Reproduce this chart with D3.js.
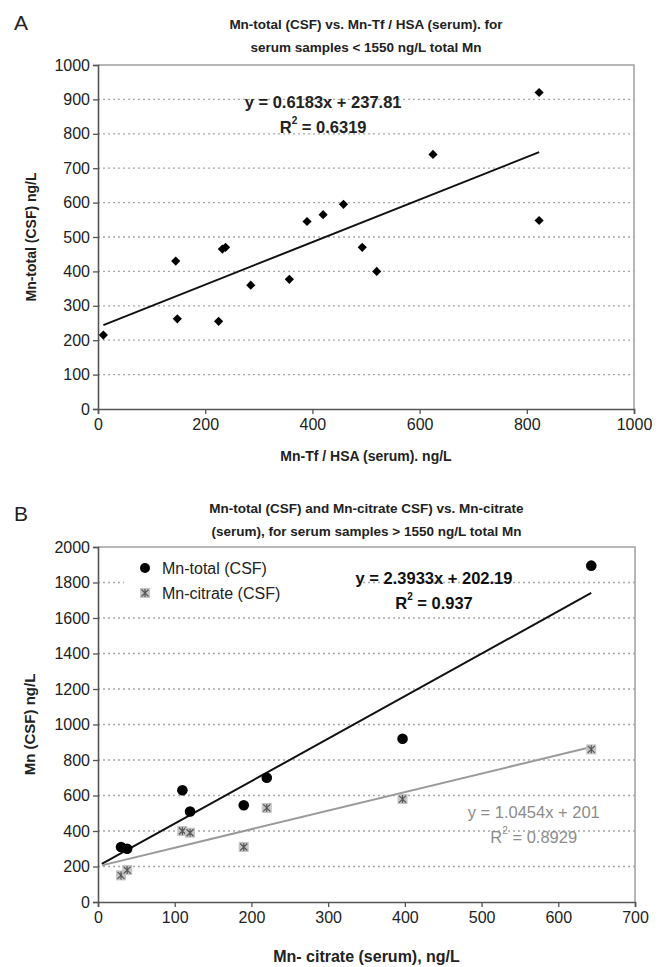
<!DOCTYPE html>
<html>
<head>
<meta charset="utf-8">
<script src="https://cdn.jsdelivr.net/npm/d3@7"></script>
<style>
  body { margin: 0; background: #fff; }
  svg { font-family: "Liberation Sans", Arial, sans-serif; }
</style>
</head>
<body>
<svg id="chart" width="662" height="967"></svg>
<script>
// panel A data: Mn-Tf / HSA (serum) vs Mn-total (CSF)
var serumTfA = [10, 145, 148, 225, 232, 238, 285, 357, 390, 420, 458, 493, 520, 625, 823, 823];
var csfTotalA = [215, 430, 262, 255, 465, 470, 360, 377, 545, 565, 595, 470, 400, 740, 920, 548];
var fitA = { slope: 0.6183, intercept: 237.81, x0: 10, x1: 823 };
var ticksA_x = [0, 200, 400, 600, 800, 1000];
var ticksA_y = [0, 100, 200, 300, 400, 500, 600, 700, 800, 900, 1000];

// panel B data: Mn-citrate (serum) vs Mn-total / Mn-citrate (CSF)
var serumCitB = [30, 38, 110, 120, 190, 220, 397, 643];
var csfTotalB = [310, 300, 630, 510, 545, 700, 920, 1895];
var csfCitB = [150, 180, 400, 390, 310, 530, 580, 860];
var fitTotalB = { slope: 2.3933, intercept: 202.19, x0: 5, x1: 643 };
var fitCitB = { slope: 1.0454, intercept: 201, x0: 5, x1: 643 };
var ticksB_x = [0, 100, 200, 300, 400, 500, 600, 700];
var ticksB_y = [0, 200, 400, 600, 800, 1000, 1200, 1400, 1600, 1800, 2000];
var legendB = ["Mn-total (CSF)", "Mn-citrate (CSF)"];

var svg = d3.select("#chart");
var grey = "#8c8c8c";

function drawFrame(p) {
    var g = svg.append("g");
    var x = d3.scaleLinear().domain(p.xDomain).range([p.left, p.right]);
    var y = d3.scaleLinear().domain(p.yDomain).range([p.bottom, p.top]);

    // dotted grid
    g.selectAll(".grid").data(p.yTicks.slice(1, -1)).enter()
        .append("line")
        .attr("x1", p.left).attr("x2", p.right)
        .attr("y1", function (d) { return y(d); })
        .attr("y2", function (d) { return y(d); })
        .attr("stroke", "#a8a8a8")
        .attr("stroke-width", 1.3)
        .attr("stroke-dasharray", "2,3");

    // top / right border
    g.append("path")
        .attr("d", "M" + p.left + "," + p.top + "H" + p.right + "V" + p.bottom)
        .attr("fill", "none").attr("stroke", "#a0a0a0").attr("stroke-width", 1.5);

    var ax = g.append("g").attr("transform", "translate(0," + p.bottom + ")")
        .call(d3.axisBottom(x).tickValues(p.xTicks).tickSize(5).tickPadding(5).tickFormat(d3.format("d")));
    var ay = g.append("g").attr("transform", "translate(" + p.left + ",0)")
        .call(d3.axisLeft(y).tickValues(p.yTicks).tickSize(5).tickPadding(3).tickFormat(d3.format("d")));
    [ax, ay].forEach(function (a) {
        a.select(".domain").attr("stroke", "#555").attr("stroke-width", 1.6);
        a.selectAll(".tick line").attr("stroke", "#555").attr("stroke-width", 1.3);
        a.selectAll(".tick text").attr("fill", "#222").style("font-size", "16px");
    });

    // titles
    p.title.forEach(function (t, i) {
        svg.append("text").attr("x", (p.left + p.right) / 2).attr("y", p.titleY + i * 23)
            .attr("text-anchor", "middle").attr("dominant-baseline", "central")
            .style("font-size", "13.5px").style("font-weight", "bold").attr("fill", "#222")
            .text(t);
    });
    svg.append("text").attr("x", 14).attr("y", p.letterY)
        .attr("dominant-baseline", "central")
        .style("font-size", "21px").attr("fill", "#222").text(p.letter);
    svg.append("text").attr("x", (p.left + p.right) / 2).attr("y", p.xTitleY)
        .attr("text-anchor", "middle").attr("dominant-baseline", "central")
        .style("font-size", p.xTitleSize).style("font-weight", "bold").attr("fill", "#222")
        .text(p.xTitle);
    svg.append("text")
        .attr("transform", "translate(" + p.yTitleX + "," + (p.top + p.bottom) / 2 + ") rotate(-90)")
        .attr("text-anchor", "middle").attr("dominant-baseline", "central")
        .style("font-size", p.yTitleSize).style("font-weight", "bold").attr("fill", "#222")
        .text(p.yTitle);

    return { g: g, x: x, y: y };
}

function drawFit(f, fit, color, width) {
    f.g.append("line")
        .attr("x1", f.x(fit.x0)).attr("y1", f.y(fit.slope * fit.x0 + fit.intercept))
        .attr("x2", f.x(fit.x1)).attr("y2", f.y(fit.slope * fit.x1 + fit.intercept))
        .attr("stroke", color).attr("stroke-width", width);
}

function drawEquation(f, fit, r2, pos, color, bold) {
    var eq = "y = " + fit.slope + "x + " + fit.intercept;
    var t1 = f.g.append("text").attr("x", f.x(pos[0])).attr("y", f.y(pos[1]))
        .attr("text-anchor", "middle").attr("dominant-baseline", "central")
        .style("font-size", "16.5px").attr("fill", color).text(eq);
    var t2 = f.g.append("text").attr("x", f.x(pos[0])).attr("y", f.y(pos[1]) + 25)
        .attr("text-anchor", "middle").attr("dominant-baseline", "central")
        .style("font-size", "16.5px").attr("fill", color);
    t2.append("tspan").text("R");
    t2.append("tspan").attr("dy", -7).style("font-size", "10px").text("2");
    t2.append("tspan").attr("dy", 7).text(" = " + r2);
    if (bold) { t1.style("font-weight", "bold"); t2.style("font-weight", "bold"); }
}

function starMarker(sel, color) {
    sel.append("rect").attr("x", -5).attr("y", -5).attr("width", 10).attr("height", 10)
        .attr("fill", "#c4c4c4");
    sel.append("path").attr("d", "M-3.5,-3.5L3.5,3.5M-3.5,3.5L3.5,-3.5M0,-4V4")
        .attr("stroke", color).attr("stroke-width", 1.2);
}

// ---------- panel A ----------
var fA = drawFrame({
    left: 98, right: 634, top: 65, bottom: 409,
    xDomain: [0, 1000], yDomain: [0, 1000], xTicks: ticksA_x, yTicks: ticksA_y,
    title: ["Mn-total (CSF) vs.  Mn-Tf / HSA (serum). for", "serum samples < 1550 ng/L total Mn"],
    titleY: 24, letter: "A", letterY: 22,
    xTitle: "Mn-Tf / HSA (serum). ng/L", xTitleY: 456, xTitleSize: "14px",
    yTitle: "Mn-total (CSF)  ng/L", yTitleX: 31, yTitleSize: "14px"
});
drawFit(fA, fitA, "#111", 2);
fA.g.selectAll(".dia").data(serumTfA).enter()
    .append("path")
    .attr("transform", function (d, i) { return "translate(" + fA.x(d) + "," + fA.y(csfTotalA[i]) + ")"; })
    .attr("d", "M0,-4.6L4.6,0L0,4.6L-4.6,0Z")
    .attr("fill", "#000");
drawEquation(fA, fitA, "0.6319", [420, 893], "#222", true);

// ---------- panel B ----------
var fB = drawFrame({
    left: 98, right: 635, top: 547, bottom: 902,
    xDomain: [0, 700], yDomain: [0, 2000], xTicks: ticksB_x, yTicks: ticksB_y,
    title: ["Mn-total (CSF) and Mn-citrate CSF) vs. Mn-citrate", "(serum), for serum samples > 1550 ng/L total Mn"],
    titleY: 508, letter: "B", letterY: 513,
    xTitle: "Mn- citrate (serum), ng/L", xTitleY: 956, xTitleSize: "16px",
    yTitle: "Mn (CSF)  ng/L", yTitleX: 29, yTitleSize: "15px"
});

// legend box hides grid behind it
var lg = fB.g.append("g").attr("transform", "translate(124,556)");
lg.append("rect").attr("width", 232).attr("height", 52).attr("fill", "#fff");
lg.append("circle").attr("cx", 21).attr("cy", 12).attr("r", 5).attr("fill", "#000");
starMarker(lg.append("g").attr("transform", "translate(21,37)"), "#555");
lg.selectAll(".lt").data(legendB).enter()
    .append("text")
    .attr("x", 38).attr("y", function (d, i) { return 12 + i * 25; })
    .attr("dominant-baseline", "central")
    .style("font-size", "16px").attr("fill", "#222")
    .text(function (d) { return d; });

drawFit(fB, fitTotalB, "#111", 2);
drawFit(fB, fitCitB, "#9a9a9a", 2);

fB.g.selectAll(".star").data(serumCitB).enter()
    .append("g")
    .attr("transform", function (d, i) { return "translate(" + fB.x(d) + "," + fB.y(csfCitB[i]) + ")"; })
    .each(function () { starMarker(d3.select(this), "#555"); });
fB.g.selectAll(".dot").data(serumCitB).enter()
    .append("circle")
    .attr("cx", function (d) { return fB.x(d); })
    .attr("cy", function (d, i) { return fB.y(csfTotalB[i]); })
    .attr("r", 5.3)
    .attr("fill", "#000");

drawEquation(fB, fitTotalB, "0.937", [438, 1825], "#111", true);
drawEquation(fB, fitCitB, "0.8929", [568, 507], grey, false);
</script>
</body>
</html>
